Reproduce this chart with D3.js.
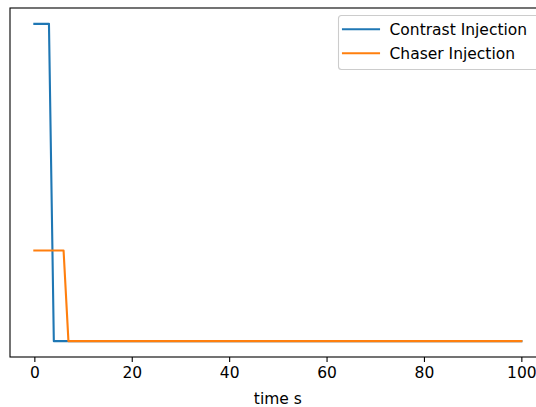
<!DOCTYPE html>
<html>
<head>
<meta charset="utf-8">
<script src="https://cdn.jsdelivr.net/npm/d3@7"></script>
<style>
  html, body { margin: 0; padding: 0; background: #fff; overflow: hidden; }
  svg { display: block; }
  text { font-family: "DejaVu Sans", sans-serif; fill: #000; }
</style>
</head>
<body>
<svg id="chart" width="536" height="407"></svg>
<script>
// ---- data ----
const contrastTime = [0, 3, 4, 100];
const contrastValue = [7, 7, 0, 0];
const chaserTime = [0, 6, 7, 100];
const chaserValue = [2, 2, 0, 0];
const xTicks = [0, 20, 40, 60, 80, 100];
const seriesNames = ["Contrast Injection", "Chaser Injection"];
const seriesColors = ["#1f77b4", "#ff7f0e"];
const xLabel = "time s";

// ---- layout ----
const svg = d3.select("#chart");
const axL = 10, axT = 8, axR = 545.7, axB = 357;
const fs = 15.5;

const x = d3.scaleLinear().domain([-5, 105]).range([axL, axR]);
const yMax = 7, yMin = 0, pad = (yMax - yMin) * 0.05;
const y = d3.scaleLinear().domain([yMin - pad, yMax + pad]).range([axB, axT]);

const series = [
  { name: seriesNames[0], color: seriesColors[0], pts: contrastTime.map((t, i) => [t, contrastValue[i]]) },
  { name: seriesNames[1], color: seriesColors[1], pts: chaserTime.map((t, i) => [t, chaserValue[i]]) }
];

const line = d3.line().x(d => x(d[0])).y(d => y(d[1]));

svg.append("defs").append("clipPath").attr("id", "clip")
  .append("rect").attr("x", axL).attr("y", axT).attr("width", axR - axL).attr("height", axB - axT);

const g = svg.append("g").attr("clip-path", "url(#clip)");
series.forEach(s => {
  g.append("path").datum(s.pts)
    .attr("d", line)
    .attr("fill", "none")
    .attr("stroke", s.color)
    .attr("stroke-width", 2.1)
    .attr("stroke-linecap", "square")
    .attr("stroke-linejoin", "round");
});

// x axis
const xAxis = d3.axisBottom(x).tickValues(xTicks).tickSize(5).tickPadding(5).tickFormat(d3.format("d"));
const ax = svg.append("g").attr("transform", `translate(0,${axB})`).call(xAxis);
ax.select(".domain").remove();
ax.selectAll(".tick line").attr("stroke", "#000").attr("stroke-width", 1.1);
ax.selectAll(".tick text").attr("font-size", fs).attr("font-family", "DejaVu Sans").attr("fill", "#262626");

// spines
svg.append("rect").attr("x", axL).attr("y", axT).attr("width", axR - axL).attr("height", axB - axT)
  .attr("fill", "none").attr("stroke", "#000").attr("stroke-width", 1.1);

// x label
svg.append("text").attr("x", (axL + axR) / 2).attr("y", 404)
  .attr("text-anchor", "middle").attr("font-size", fs).attr("fill", "#262626").text(xLabel);

// legend
const lg = svg.append("g");
lg.append("rect").attr("x", 338.5).attr("y", 15.5).attr("width", 205).attr("height", 54)
  .attr("rx", 3).attr("fill", "#fff").attr("fill-opacity", 0.8)
  .attr("stroke", "#cccccc").attr("stroke-width", 1.1);
series.forEach((s, i) => {
  const yy = 29.3 + i * 24;
  lg.append("line").attr("x1", 343).attr("x2", 379).attr("y1", yy).attr("y2", yy)
    .attr("stroke", s.color).attr("stroke-width", 2.1).attr("stroke-linecap", "square");
  lg.append("text").attr("x", 389.5).attr("y", yy + 5.5).attr("font-size", fs).attr("fill", "#262626").text(s.name);
});
</script>
</body>
</html>
